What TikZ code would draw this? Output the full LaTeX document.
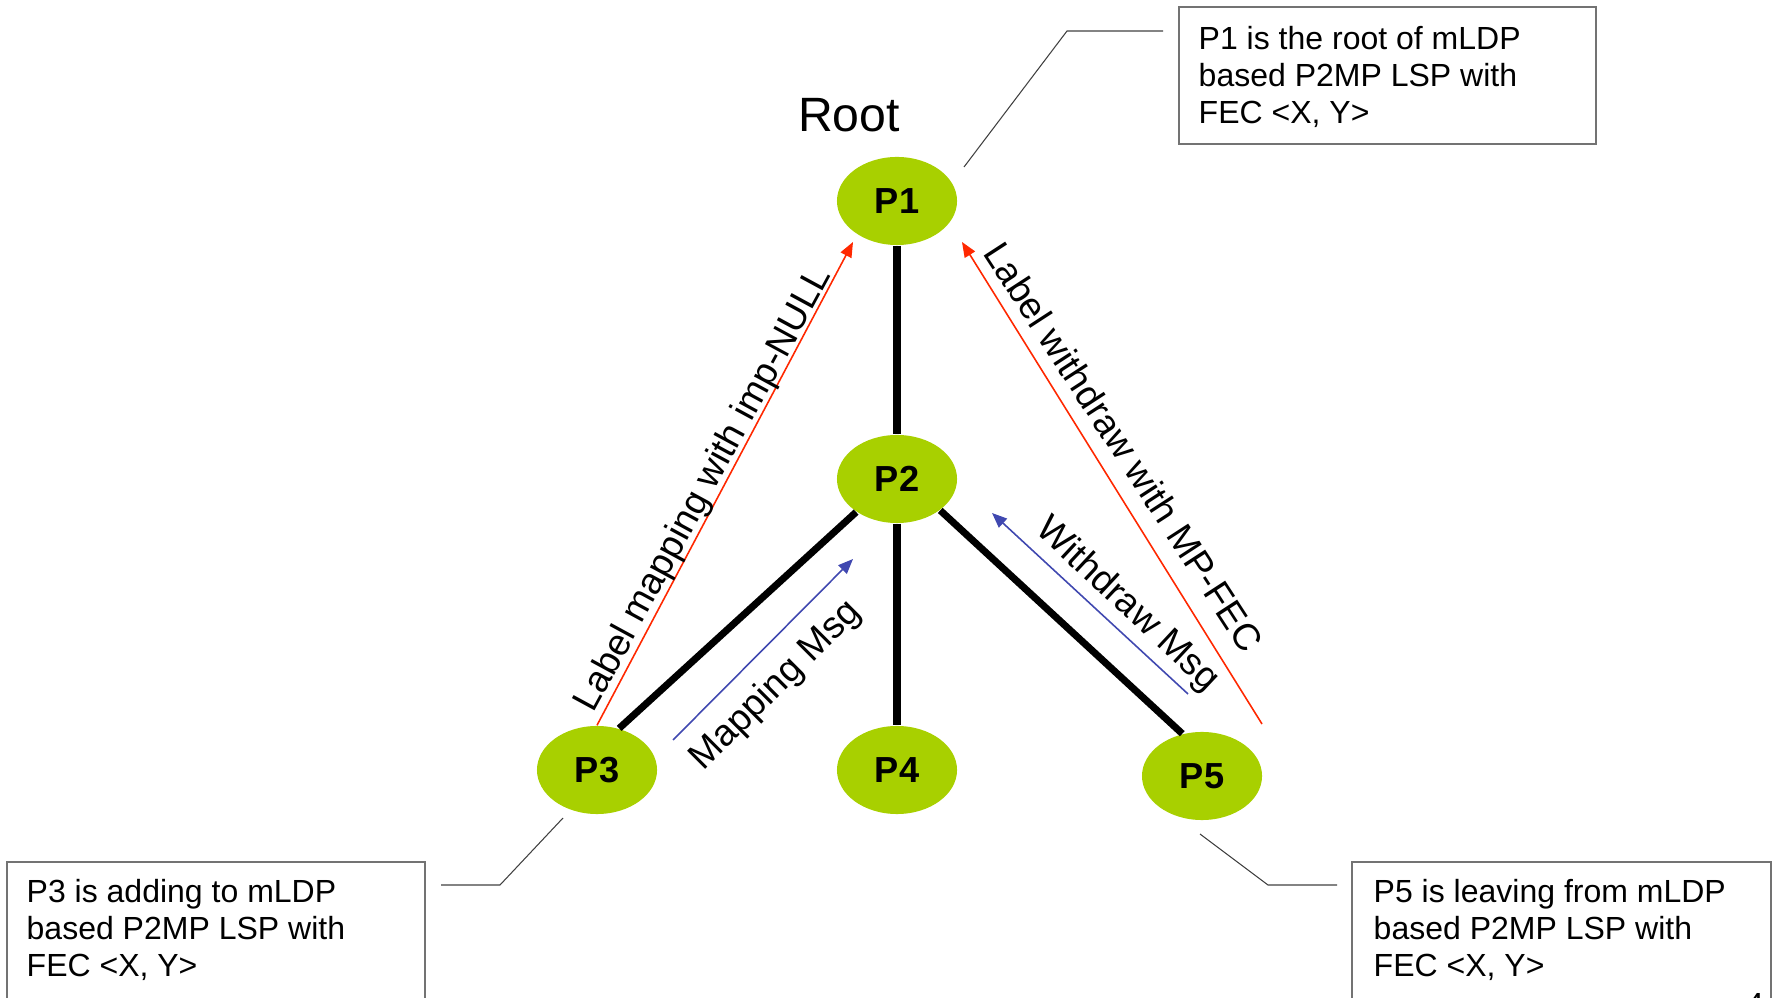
\documentclass[tikz,border=0pt]{standalone}
\usepackage{fontspec}
\setmainfont{Liberation Sans}
\usetikzlibrary{shapes.geometric,arrows.meta}
\definecolor{pgreen}{RGB}{168,208,0}
\definecolor{pred}{RGB}{255,40,0}
\definecolor{pblue}{RGB}{64,72,176}
\begin{document}
\begin{tikzpicture}[x=0.01cm,y=-0.01cm,
  pnode/.style={ellipse,fill=pgreen,minimum width=1.2cm,minimum height=0.88cm,inner sep=0pt,
    font=\fontsize{10.3}{12}\selectfont\bfseries},
  tree/.style={line width=2pt},
  redarrow/.style={draw=pred,line width=0.45pt,-{Triangle[length=0.15cm,width=0.12cm]}},
  bluearrow/.style={draw=pblue,line width=0.45pt,-{Triangle[length=0.15cm,width=0.12cm]}},
  msglabel/.style={font=\fontsize{10.6}{13}\selectfont,inner sep=0pt},
  boxtext/.style={font=\fontsize{9.1}{10.5}\selectfont,align=left,inner sep=0pt,anchor=west},
  callbox/.style={draw=black!55,line width=0.5pt},
  callline/.style={draw=black!75,line width=0.3pt}]
\useasboundingbox (0,0) rectangle (1779,998);

% nodes
\node[pnode] (P1) at (897,201) {P1};
\node[pnode] (P2) at (897,479) {P2};
\node[pnode] (P3) at (597,770) {P3};
\node[pnode] (P4) at (897,770) {P4};
\node[pnode] (P5) at (1202,776) {P5};
\node[font=\fontsize{13.7}{16}\selectfont,inner sep=0pt] (root) at (849,115) {Root};

% tree links
\draw[tree] (P1) -- (P2);
\draw[tree] (P2.-141) -- (P3.62);
\draw[tree] (P2) -- (P4);
\draw[tree] (P2.-36) -- (P5.115);

% red messages
\coordinate (r1e) at (853,242);
\coordinate (r2s) at (1262,724);
\coordinate (r2e) at (962,242);
\draw[redarrow] (P3.north) -- (r1e);
\draw[redarrow] (r2s) -- (r2e);

% blue messages
\coordinate (b1s) at (673,740);
\coordinate (b1e) at (853,559);
\coordinate (b2s) at (1188,694);
\coordinate (b2e) at (992,513);
\draw[bluearrow] (b1s) -- (b1e);
\draw[bluearrow] (b2s) -- (b2e);

% rotated labels
\node[msglabel,rotate=61.5] (lmap) at (704,490) {Label mapping with imp-NULL};
\node[msglabel,rotate=45] (mmsg) at (776,686) {Mapping Msg};
\node[msglabel,rotate=-57] (lwd) at (1124,447) {Label withdraw with MP-FEC};
\node[msglabel,rotate=-43] (wmsg) at (1127,605) {Withdraw Msg};

% callout boxes
\draw[callbox] (1179,7) rectangle (1596,144);
\node[boxtext] (t1) at (1198,77) {P1 is the root of mLDP\\based P2MP LSP with\\FEC <X, Y>};
\draw[callbox] (7,1040) |- (425,862) -- (425,1040);
\node[boxtext] (t3) at (26,930) {P3 is adding to mLDP\\based P2MP LSP with\\FEC <X, Y>};
\draw[callbox] (1352,1040) |- (1771,862) -- (1771,1040);
\node[boxtext] (t5) at (1373,930) {P5 is leaving from mLDP\\based P2MP LSP with\\FEC <X, Y>};

% callout lines
\coordinate (c1a) at (1163,31);
\coordinate (c1b) at (1067,31);
\coordinate (c1c) at (964,167);
\draw[callline] (c1a) -- (c1b) -- (c1c);
\coordinate (c3a) at (441,885);
\coordinate (c3b) at (500,885);
\coordinate (c3c) at (563,818);
\draw[callline] (c3a) -- (c3b) -- (c3c);
\coordinate (c5a) at (1337,885);
\coordinate (c5b) at (1268,885);
\coordinate (c5c) at (1200,834);
\draw[callline] (c5a) -- (c5b) -- (c5c);

% page number (cut off)
\node[font=\fontsize{9.1}{10.5}\selectfont,anchor=base,inner sep=0pt] (pg) at (1755,1015) {4};
\end{tikzpicture}
\end{document}
